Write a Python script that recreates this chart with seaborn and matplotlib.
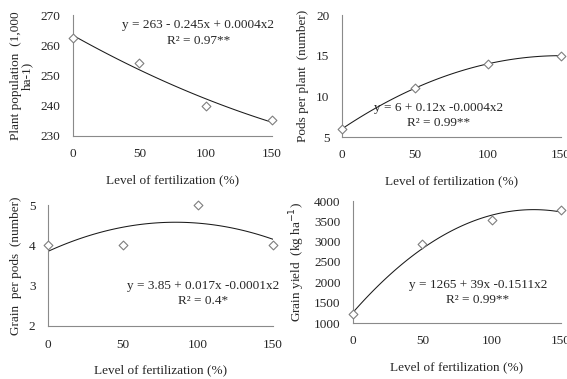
import numpy as np
import seaborn as sns
import matplotlib.pyplot as plt

sns.set_style("white")
plt.rcParams['font.family'] = ['Liberation Serif', 'DejaVu Serif']

level = [0, 50, 100, 150]
plant_pop = [262.5, 254.2, 240.0, 235.3]
pods = [6.0, 11.0, 14.0, 15.0]
grain_pod = [4.0, 4.0, 5.0, 4.0]
grain_yield = [1220, 2950, 3530, 3770]

panels = [
    # values, ylabel, ylim, yticks, eq, r2, axes px (left, top, right, bottom), text pos (axes fraction)
    (plant_pop, "Plant population  (1,000\nha-1)", (230, 270), [230, 240, 250, 260, 270],
     "y = 263 - 0.245x + 0.0004x2", "R\u00b2 = 0.97**", (73, 15, 272, 136), (0.63, 0.915, 0.785)),
    (pods, "Pods per plant  (number)", (5, 20), [5, 10, 15, 20],
     "y = 6 + 0.12x -0.0004x2", "R\u00b2 = 0.99**", (342, 15, 561, 137), (0.44, 0.238, 0.115)),
    (grain_pod, "Grain  per pods  (number)", (2, 5), [2, 3, 4, 5],
     "y = 3.85 + 0.017x -0.0001x2", "R\u00b2 = 0.4*", (48, 205, 273, 326), (0.69, 0.33, 0.205)),
    (grain_yield, "Grain yield  (kg ha$^{-1}$)", (1000, 4000), [1000, 1500, 2000, 2500, 3000, 3500, 4000],
     "y = 1265 + 39x -0.1511x2", "R\u00b2 = 0.99**", (353, 201, 561, 323), (0.60, 0.31, 0.185)),
]

W, H = 567, 379
fig = plt.figure(figsize=(W / 100, H / 100), dpi=100)

for vals, ylab, ylim, yticks, eq, r2, (l, t, r, b), (tx, ty1, ty2) in panels:
    ax = fig.add_axes([l / W, 1 - b / H, (r - l) / W, (b - t) / H])
    sns.regplot(x=level, y=vals, order=2, ci=None, scatter=False, ax=ax,
                line_kws={'color': '#1a1a1a', 'lw': 0.75})
    sns.scatterplot(x=level, y=vals, marker='D', s=20, facecolor='white',
                    edgecolor='#7f7f7f', linewidth=0.8, ax=ax, clip_on=False, zorder=3)
    ax.set_xlim(0, 150)
    ax.set_ylim(*ylim)
    ax.set_xticks([0, 50, 100, 150])
    ax.set_yticks(yticks)
    ax.tick_params(labelsize=9.5, length=4, width=0.8, color='#8a8a8a', pad=5)
    ax.tick_params(axis='x', length=3, pad=6)
    for s in ['top', 'right']:
        ax.spines[s].set_visible(False)
    for s in ['left', 'bottom']:
        ax.spines[s].set_color('#8a8a8a')
        ax.spines[s].set_linewidth(0.8)
    ax.set_xlabel("Level of fertilization (%)", fontsize=9.5, labelpad=10)
    ax.set_ylabel(ylab, fontsize=9.5, labelpad=5, linespacing=1.0)
    ax.text(tx, ty1, eq, transform=ax.transAxes, ha='center', va='center', fontsize=9.5)
    ax.text(tx, ty2, r2, transform=ax.transAxes, ha='center', va='center', fontsize=9.5)

fig.savefig("out.png", dpi=100)
